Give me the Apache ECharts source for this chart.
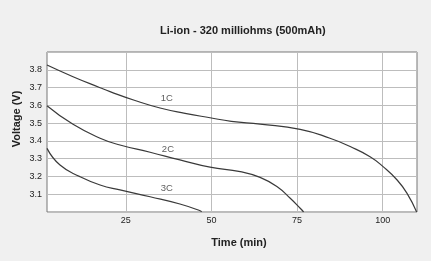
<!DOCTYPE html>
<html>
<head>
<meta charset="utf-8">
<script src="https://cdn.jsdelivr.net/npm/echarts@6/dist/echarts.min.js"></script>
<style>
html,body{margin:0;padding:0;background:#f0f0f0;}
#c{width:431px;height:261px;}
</style>
</head>
<body>
<div id="c"></div>
<script>
var titleText = 'Li-ion - 320 milliohms (500mAh)';
var xName = 'Time (min)';
var yName = 'Voltage (V)';
var xTicks = [25, 50, 75, 100];

var t1C = [2, 9.6, 17.5, 20.4, 27.7, 35.0, 42.3, 49.6, 55.8, 64.2, 75.9, 84.6, 90.5, 96.3, 100.1, 104.2, 107.1, 109.9];
var v1C = [3.827, 3.761, 3.699, 3.677, 3.627, 3.585, 3.555, 3.530, 3.510, 3.494, 3.465, 3.415, 3.368, 3.311, 3.255, 3.180, 3.105, 3.0];

var t2C = [2, 9.6, 17.5, 23.3, 32.1, 40.8, 49.6, 58.4, 64.2, 69.2, 73.0, 75.9, 76.9];
var v2C = [3.598, 3.493, 3.415, 3.377, 3.336, 3.293, 3.252, 3.227, 3.195, 3.142, 3.077, 3.021, 3.0];

var t3C = [2, 5.8, 11.6, 17.5, 23.3, 32.1, 40.8, 46.7, 47.1];
var v3C = [3.358, 3.264, 3.199, 3.152, 3.124, 3.086, 3.045, 3.007, 3.0];

var seriesNames = ['1C', '2C', '3C'];
var labelT = [37.0, 37.3, 37.0];
var labelV = [3.638, 3.353, 3.135];

function zip(a, b) { return a.map(function (x, i) { return [x, b[i]]; }); }

var lineColor = '#3a3a3a';
var chart = echarts.init(document.getElementById('c'), null, {renderer: 'canvas'});
var lineData = [zip(t1C, v1C), zip(t2C, v2C), zip(t3C, v3C)];
var series = lineData.map(function (d, i) {
  return {
    name: seriesNames[i], type: 'line', data: d, smooth: 0.5, showSymbol: false,
    lineStyle: {color: lineColor, width: 1.2}, silent: true
  };
});
series.push({
  type: 'scatter', symbolSize: 0, silent: true,
  data: labelT.map(function (t, i) { return {value: [t, labelV[i]], name: seriesNames[i]}; }),
  label: {show: true, position: 'inside', formatter: '{b}', color: '#333', fontSize: 9.5,
    fontFamily: 'Liberation Sans, Arial, sans-serif'}
});

chart.setOption({
  backgroundColor: '#f0f0f0',
  animation: false,
  title: {
    text: titleText, left: 155, top: 20,
    textStyle: {fontSize: 11, fontWeight: 'bold', color: '#222', fontFamily: 'Liberation Sans, Arial, sans-serif'}
  },
  grid: {left: 47, top: 52, right: 14, bottom: 49, show: true, backgroundColor: '#ffffff',
    borderColor: '#777', borderWidth: 1},
  xAxis: {
    type: 'value', min: 2, max: 110,
    axisLine: {show: false}, axisTick: {show: false, customValues: xTicks},
    axisLabel: {customValues: xTicks, margin: 4, fontSize: 9, color: '#222',
      fontFamily: 'Liberation Sans Narrow, Liberation Sans, Arial, sans-serif'},
    splitLine: {show: true, customValues: xTicks, lineStyle: {color: '#bdbdbd', width: 1}}
  },
  yAxis: {
    type: 'value', min: 3.0, max: 3.9, interval: 0.1,
    axisLine: {show: false}, axisTick: {show: false},
    axisLabel: {margin: 5, fontSize: 9, color: '#222',
      fontFamily: 'Liberation Sans Narrow, Liberation Sans, Arial, sans-serif',
      formatter: function (v) { return (v < 3.05 || v > 3.85) ? '' : v.toFixed(1); }},
    splitLine: {show: true, lineStyle: {color: '#bdbdbd', width: 1}}
  },
  graphic: [
    {type: 'text', x: 239, y: 243, style: {text: xName, fill: '#222', font: 'bold 11px "Liberation Sans", Arial, sans-serif',
      textAlign: 'center', textVerticalAlign: 'middle'}},
    {type: 'text', x: 17, y: 119, rotation: Math.PI / 2, style: {text: yName, fill: '#222',
      font: 'bold 11px "Liberation Sans", Arial, sans-serif', textAlign: 'center', textVerticalAlign: 'middle'}}
  ],
  series: series
});
</script>
</body>
</html>
